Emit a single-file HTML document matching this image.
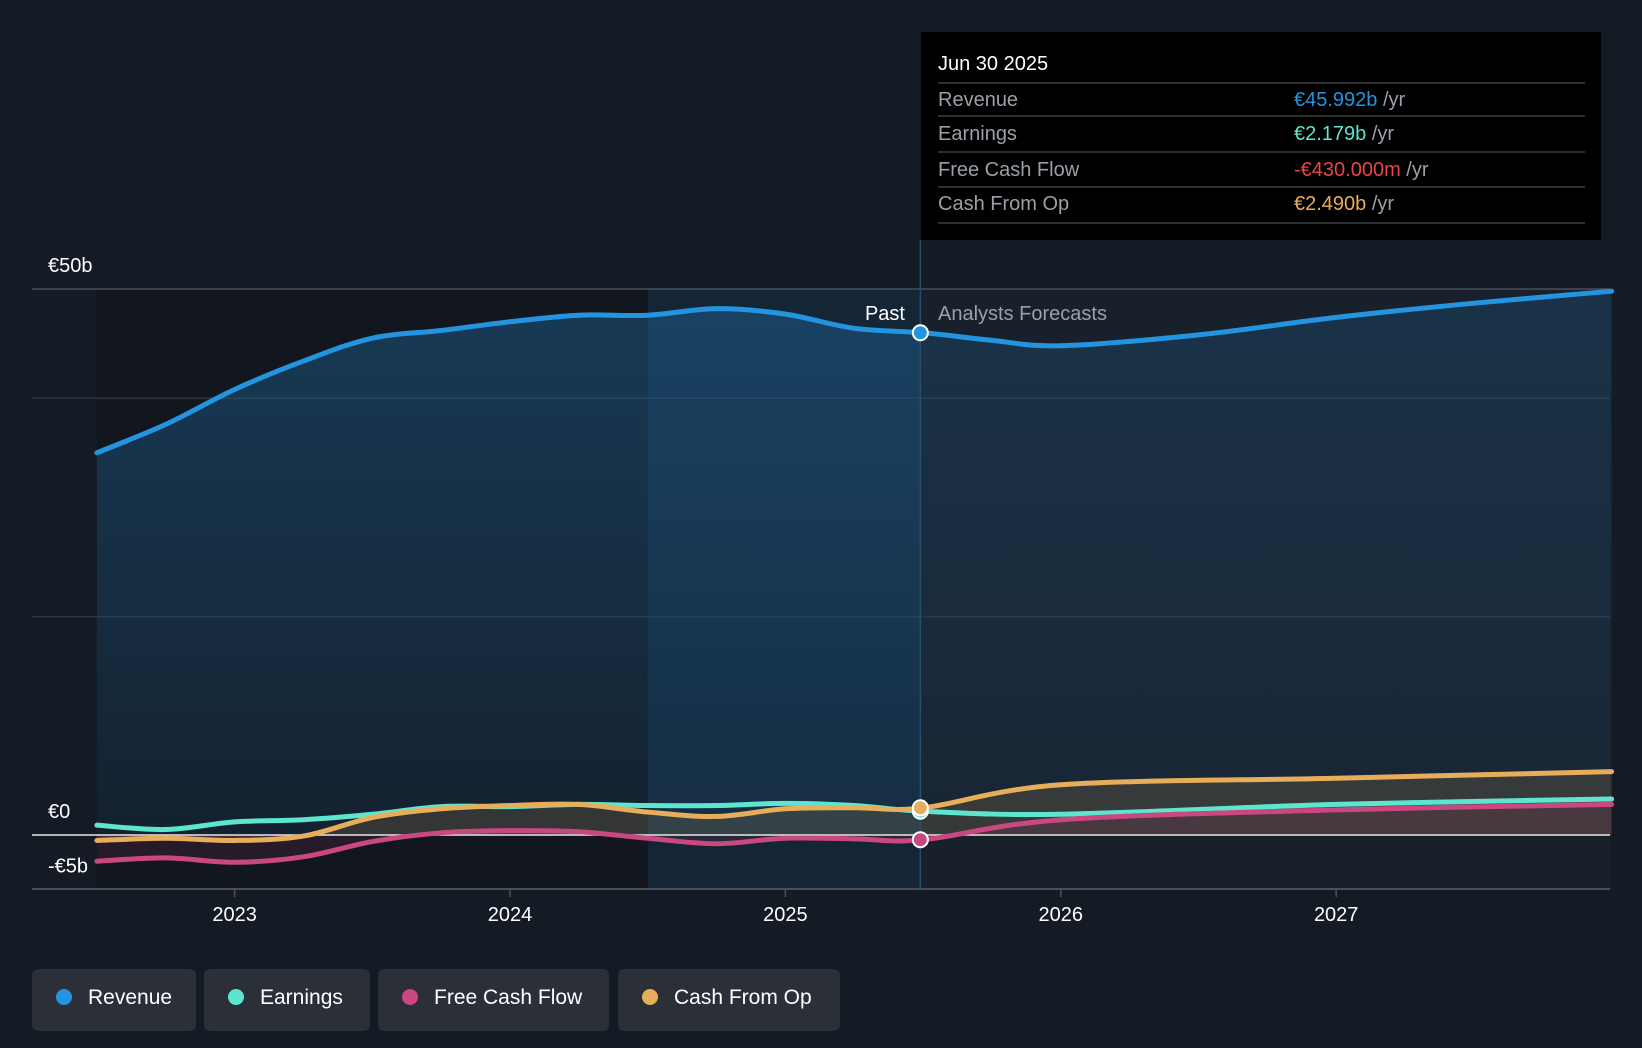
<!DOCTYPE html>
<html><head><meta charset="utf-8">
<style>
html,body{margin:0;padding:0;background:#151b24;width:1642px;height:1048px;overflow:hidden;font-family:"Liberation Sans",sans-serif;}
svg text{font-family:"Liberation Sans",sans-serif;}
</style></head>
<body>
<svg id="chart" width="1642" height="1048" viewBox="0 0 1642 1048" xmlns="http://www.w3.org/2000/svg">
<defs>
<linearGradient id="revGrad" x1="0" y1="0" x2="0" y2="1">
<stop offset="0" stop-color="#1e5f8f" stop-opacity="0.5"/>
<stop offset="1" stop-color="#1e5f8f" stop-opacity="0.15"/>
</linearGradient>
<linearGradient id="revGradF" x1="0" y1="0" x2="0" y2="1">
<stop offset="0" stop-color="#1e5f8f" stop-opacity="0.3"/>
<stop offset="1" stop-color="#1e5f8f" stop-opacity="0.08"/>
</linearGradient>
<clipPath id="pastClip"><rect x="0" y="0" width="921" height="1048"/></clipPath>
<clipPath id="futClip"><rect x="921" y="0" width="800" height="1048"/></clipPath>
</defs>
<g id="bg"></g>
<g id="marks"></g>
<g id="overlay"></g>
</svg>
<script>
const years = [2022.5,2022.75,2023,2023.25,2023.5,2023.75,2024,2024.25,2024.5,2024.75,2025,2025.25,2025.5,2025.75,2026,2026.5,2027,2027.5,2028];
const revenue = [35.0,37.6,40.8,43.4,45.5,46.2,47.0,47.6,47.6,48.2,47.7,46.4,45.992,45.3,44.8,45.8,47.4,48.7,49.8];
const earnYears = [2022.5,2022.75,2023,2023.25,2023.5,2023.75,2024,2024.25,2024.5,2024.75,2025,2025.25,2025.5,2026,2027,2028];
const earnings = [0.9,0.5,1.2,1.4,1.9,2.6,2.6,2.8,2.7,2.7,2.9,2.7,2.179,1.9,2.8,3.3];
const fcf = [-2.4,-2.1,-2.5,-2.0,-0.6,0.2,0.4,0.3,-0.3,-0.8,-0.3,-0.35,-0.43,1.4,2.3,2.8];
const cfo = [-0.5,-0.3,-0.5,-0.1,1.6,2.4,2.7,2.8,2.1,1.7,2.4,2.5,2.49,4.6,5.2,5.8];
const cfoYears = [2022.5,2022.75,2023,2023.25,2023.5,2023.75,2024,2024.25,2024.5,2024.75,2025,2025.25,2025.5,2026,2027,2028];
const yTickVals = [50,0,-5];
const yTickLabels = ["€50b","€0","-€5b"];
const gridVals = [50,40,20];
const xTickVals = [2023,2024,2025,2026,2027];
const xTickLabels = ["2023","2024","2025","2026","2027"];
const pastDate = 2025.49;

const NS="http://www.w3.org/2000/svg";
const X = v => 234.6 + (v-2023)*275.4;
const Y = v => 835 - v*10.92;
const L = 32, R = 1610, T = 289, B = 889;

function mk(tag, attrs, parent){const e=document.createElementNS(NS,tag);for(const k in attrs)e.setAttribute(k,attrs[k]);parent.appendChild(e);return e;}
function path(xs, vs){
  const p = xs.map((x,i)=>[X(x),Y(vs[i])]);
  let d = "M"+p[0][0]+","+p[0][1];
  for(let i=0;i<p.length-1;i++){
    const p0=p[i-1]||p[i], p1=p[i], p2=p[i+1], p3=p[i+2]||p2;
    const c1=[p1[0]+(p2[0]-p0[0])/6, p1[1]+(p2[1]-p0[1])/6];
    const c2=[p2[0]-(p3[0]-p1[0])/6, p2[1]-(p3[1]-p1[1])/6];
    d+=` C${c1[0]},${c1[1]} ${c2[0]},${c2[1]} ${p2[0]},${p2[1]}`;
  }
  return d;
}
const bg=document.getElementById('bg'), marks=document.getElementById('marks'), ov=document.getElementById('overlay');

let r=mk('rect',{x:X(2022.5),y:T,width:X(2024.5)-X(2022.5),height:B-T,fill:'#12161e'},bg);

r=mk('rect',{x:X(2024.5),y:T,width:X(pastDate)-X(2024.5),height:B-T,fill:'#142536'},bg);

r=mk('rect',{x:X(pastDate),y:T,width:R-X(pastDate),height:B-T,fill:'#18202b'},bg);


gridVals.forEach(v=>{const g=mk('line',{x1:L,x2:R,y1:Y(v),y2:Y(v),stroke:v===50?'#4a4f58':'#2c3440','stroke-width':1.5},bg);
});

const revD=path(years,revenue);
const revArea=revD+` L${X(2028)},${Y(0)} L${X(2022.5)},${Y(0)} Z`;
let a=mk('path',{d:revArea,fill:'url(#revGrad)','clip-path':'url(#pastClip)'},marks);

a=mk('path',{d:revArea,fill:'url(#revGradF)','clip-path':'url(#futClip)'},marks);

a=mk('path',{d:path(cfoYears,cfo)+` L${X(2028)},${Y(0)} L${X(2022.5)},${Y(0)} Z`,fill:'rgba(230,175,90,0.15)'},marks);

a=mk('path',{d:path(earnYears,fcf)+` L${X(2028)},${Y(0)} L${X(2022.5)},${Y(0)} Z`,fill:'rgba(200,60,120,0.12)'},marks);


let zl=mk('line',{x1:L,x2:R,y1:Y(0),y2:Y(0),stroke:'#e8e8e8','stroke-width':1.5},marks);

let ax=mk('line',{x1:L,x2:R,y1:B,y2:B,stroke:'#4a4f58','stroke-width':2},marks);


const series=[['earnings-line',earnYears,earnings,'#5ee5cf'],['fcf-line',earnYears,fcf,'#c9487f'],['cfo-line',cfoYears,cfo,'#e6ad5a'],['revenue-line',years,revenue,'#2394e0']];
series.forEach(s=>{const l=mk('path',{d:path(s[1],s[2]),fill:'none',stroke:s[3],'stroke-width':5,'stroke-linecap':'round'},marks);
});

let pl=mk('line',{x1:X(pastDate),x2:X(pastDate),y1:240,y2:B,stroke:'#2a4d6a','stroke-width':1.5},marks);


[[revenue[12],'#2394e0','revenue-marker'],[earnings[12],'#5ee5cf','earnings-marker'],[fcf[12],'#c9487f','fcf-marker'],[cfo[12],'#e6ad5a','cfo-marker']].forEach(m=>{
const c=mk('circle',{cx:X(pastDate),cy:Y(m[0]),r:7.5,fill:m[1],stroke:'#fff','stroke-width':2},marks);
});

yTickVals.forEach((v,i)=>{const t=mk('text',{x:48,y:Y(v)-17,fill:'#fff','font-size':20},ov);
t.textContent=yTickLabels[i];});
xTickVals.forEach((v,i)=>{const tk=mk('line',{x1:X(v),x2:X(v),y1:B,y2:B+8,stroke:'#4a4f58','stroke-width':1.5},ov);

const t=mk('text',{x:X(v),y:921,fill:'#fff','font-size':20,'text-anchor':'middle'},ov);
t.textContent=xTickLabels[i];});

let t=mk('text',{x:905,y:320,fill:'#fff','font-size':20,'text-anchor':'end'},ov);t.textContent='Past';

t=mk('text',{x:938,y:320,fill:'#9aa0a8','font-size':20},ov);t.textContent='Analysts Forecasts';


const tip=mk('g',{},ov);
mk('rect',{x:921,y:32,width:680,height:208,fill:'#000'},tip);
t=mk('text',{x:938,y:70,fill:'#fff','font-size':20},tip);t.textContent='Jun 30 2025';
[83,116,152,187,223].forEach(y=>mk('line',{x1:938,x2:1585,y1:y,y2:y,stroke:'#3a3d42','stroke-width':1.5},tip));
const rows=[['Revenue','€45.992b','#2394e0',106],['Earnings','€2.179b','#5ee5cf',140],['Free Cash Flow','-€430.000m','#e84545',176],['Cash From Op','€2.490b','#e6ad5a',210]];
rows.forEach(rw=>{let a=mk('text',{x:938,y:rw[3],fill:'#9aa0a8','font-size':20},tip);a.textContent=rw[0];

let b=mk('text',{x:1294,y:rw[3],fill:rw[2],'font-size':20},tip);b.textContent=rw[1];
const ts=mk('tspan',{fill:'#9aa0a8'},b);ts.textContent=' /yr';
});

const leg=[['Revenue','#2394e0',32,164],['Earnings','#5ee5cf',204,166],['Free Cash Flow','#c9487f',378,231],['Cash From Op','#e6ad5a',618,222]];
leg.forEach(l=>{const g=mk('g',{},ov);
mk('rect',{x:l[2],y:969,width:l[3],height:62,rx:6,fill:'#2a2f38'},g);
mk('circle',{cx:l[2]+32,cy:997,r:8,fill:l[1]},g);
const tt=mk('text',{x:l[2]+56,y:1004,fill:'#fff','font-size':21},g);tt.textContent=l[0];});
</script>
</body></html>
